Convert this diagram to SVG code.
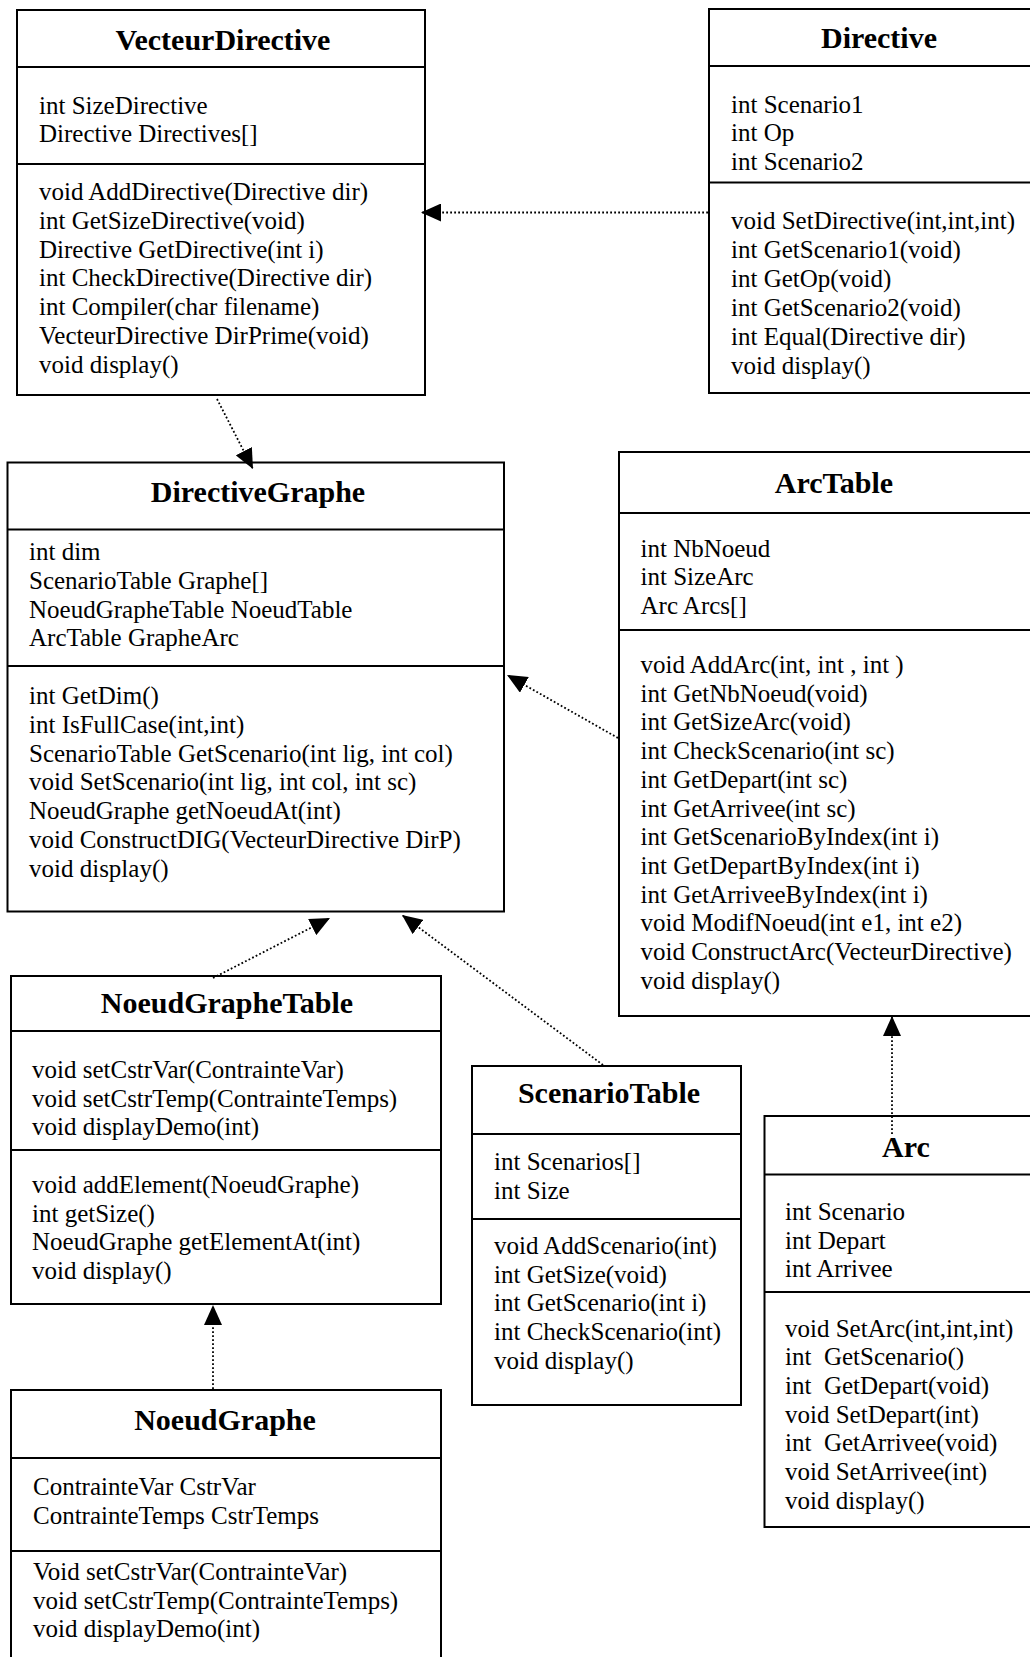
<svg xmlns="http://www.w3.org/2000/svg" width="1030" height="1657" viewBox="0 0 1030 1657">
  <style>
    .box { fill: #ffffff; stroke: #000000; stroke-width: 2; }
    .sep { stroke: #000000; stroke-width: 2; }
    .title { font-family: "Liberation Serif", "Times New Roman", serif; font-weight: bold; font-size: 30px; text-anchor: middle; fill: #000000; }
    .body { font-family: "Liberation Serif", "Times New Roman", serif; font-size: 25px; fill: #000000; }
    .dep { fill: none; stroke: #000000; stroke-width: 1.8; stroke-dasharray: 1.8 2.2; marker-end: url(#head); }
  </style>
  <defs>
    <marker id="head" markerUnits="userSpaceOnUse" viewBox="0 0 20 18" markerWidth="20" markerHeight="18" refX="20" refY="9" orient="auto">
      <path d="M0,0 L20,9 L0,18 z" fill="#000000"/>
    </marker>
  </defs>
  <rect x="0" y="0" width="1030" height="1657" fill="#ffffff"/>

  <!-- VecteurDirective -->
  <g id="VecteurDirective">
    <rect class="box" x="17" y="10" width="408" height="385"/>
    <line class="sep" x1="17" y1="67" x2="425" y2="67"/>
    <line class="sep" x1="17" y1="164" x2="425" y2="164"/>
    <text class="title" x="223" y="50">VecteurDirective</text>
    <text class="body">
      <tspan x="39" y="113.5">int SizeDirective</tspan>
      <tspan x="39" y="142.2">Directive Directives[]</tspan>
    </text>
    <text class="body">
      <tspan x="39" y="200">void AddDirective(Directive dir)</tspan>
      <tspan x="39" y="228.8">int GetSizeDirective(void)</tspan>
      <tspan x="39" y="257.6">Directive GetDirective(int i)</tspan>
      <tspan x="39" y="286.4">int CheckDirective(Directive dir)</tspan>
      <tspan x="39" y="315.2">int Compiler(char filename)</tspan>
      <tspan x="39" y="344">VecteurDirective DirPrime(void)</tspan>
      <tspan x="39" y="372.8">void display()</tspan>
    </text>
  </g>

  <!-- Directive -->
  <g id="Directive">
    <rect class="box" x="709" y="9" width="345" height="384"/>
    <line class="sep" x1="709" y1="66" x2="1054" y2="66"/>
    <line class="sep" x1="709" y1="182.5" x2="1054" y2="182.5"/>
    <text class="title" x="879" y="48">Directive</text>
    <text class="body">
      <tspan x="731" y="112.5">int Scenario1</tspan>
      <tspan x="731" y="141.2">int Op</tspan>
      <tspan x="731" y="170">int Scenario2</tspan>
    </text>
    <text class="body">
      <tspan x="731" y="228.5">void SetDirective(int,int,int)</tspan>
      <tspan x="731" y="257.5">int GetScenario1(void)</tspan>
      <tspan x="731" y="286.5">int GetOp(void)</tspan>
      <tspan x="731" y="315.5">int GetScenario2(void)</tspan>
      <tspan x="731" y="344.5">int Equal(Directive dir)</tspan>
      <tspan x="731" y="373.5">void display()</tspan>
    </text>
  </g>

  <!-- DirectiveGraphe -->
  <g id="DirectiveGraphe">
    <rect class="box" x="7.5" y="462.5" width="496.5" height="449"/>
    <line class="sep" x1="7.5" y1="529.5" x2="504" y2="529.5"/>
    <line class="sep" x1="7.5" y1="666" x2="504" y2="666"/>
    <text class="title" x="258" y="502">DirectiveGraphe</text>
    <text class="body">
      <tspan x="29" y="560">int dim</tspan>
      <tspan x="29" y="588.8">ScenarioTable Graphe[]</tspan>
      <tspan x="29" y="617.6">NoeudGrapheTable NoeudTable</tspan>
      <tspan x="29" y="646.4">ArcTable GrapheArc</tspan>
    </text>
    <text class="body">
      <tspan x="29" y="704">int GetDim()</tspan>
      <tspan x="29" y="732.8">int IsFullCase(int,int)</tspan>
      <tspan x="29" y="761.6">ScenarioTable GetScenario(int lig, int col)</tspan>
      <tspan x="29" y="790.4">void SetScenario(int lig, int col, int sc)</tspan>
      <tspan x="29" y="819.2">NoeudGraphe getNoeudAt(int)</tspan>
      <tspan x="29" y="848">void ConstructDIG(VecteurDirective DirP)</tspan>
      <tspan x="29" y="876.8">void display()</tspan>
    </text>
  </g>

  <!-- ArcTable -->
  <g id="ArcTable">
    <rect class="box" x="619" y="452" width="435" height="564"/>
    <line class="sep" x1="619" y1="513" x2="1054" y2="513"/>
    <line class="sep" x1="619" y1="630" x2="1054" y2="630"/>
    <text class="title" x="834" y="493">ArcTable</text>
    <text class="body">
      <tspan x="640.5" y="556.5">int NbNoeud</tspan>
      <tspan x="640.5" y="585">int SizeArc</tspan>
      <tspan x="640.5" y="613.5">Arc Arcs[]</tspan>
    </text>
    <text class="body">
      <tspan x="640.5" y="673">void AddArc(int, int , int )</tspan>
      <tspan x="640.5" y="701.7">int GetNbNoeud(void)</tspan>
      <tspan x="640.5" y="730.4">int GetSizeArc(void)</tspan>
      <tspan x="640.5" y="759.1">int CheckScenario(int sc)</tspan>
      <tspan x="640.5" y="787.8">int GetDepart(int sc)</tspan>
      <tspan x="640.5" y="816.5">int GetArrivee(int sc)</tspan>
      <tspan x="640.5" y="845.2">int GetScenarioByIndex(int i)</tspan>
      <tspan x="640.5" y="873.9">int GetDepartByIndex(int i)</tspan>
      <tspan x="640.5" y="902.6">int GetArriveeByIndex(int i)</tspan>
      <tspan x="640.5" y="931.3">void ModifNoeud(int e1, int e2)</tspan>
      <tspan x="640.5" y="960">void ConstructArc(VecteurDirective)</tspan>
      <tspan x="640.5" y="988.7">void display()</tspan>
    </text>
  </g>

  <!-- NoeudGrapheTable -->
  <g id="NoeudGrapheTable">
    <rect class="box" x="11" y="976" width="430" height="328"/>
    <line class="sep" x1="11" y1="1031" x2="441" y2="1031"/>
    <line class="sep" x1="11" y1="1150" x2="441" y2="1150"/>
    <text class="title" x="227" y="1013">NoeudGrapheTable</text>
    <text class="body">
      <tspan x="32" y="1078">void setCstrVar(ContrainteVar)</tspan>
      <tspan x="32" y="1106.7">void setCstrTemp(ContrainteTemps)</tspan>
      <tspan x="32" y="1135.4">void displayDemo(int)</tspan>
    </text>
    <text class="body">
      <tspan x="32" y="1193">void addElement(NoeudGraphe)</tspan>
      <tspan x="32" y="1221.7">int getSize()</tspan>
      <tspan x="32" y="1250.4">NoeudGraphe getElementAt(int)</tspan>
      <tspan x="32" y="1279.1">void display()</tspan>
    </text>
  </g>

  <!-- ScenarioTable -->
  <g id="ScenarioTable">
    <rect class="box" x="472" y="1066" width="269" height="339"/>
    <line class="sep" x1="472" y1="1134" x2="741" y2="1134"/>
    <line class="sep" x1="472" y1="1219" x2="741" y2="1219"/>
    <text class="title" x="609" y="1103">ScenarioTable</text>
    <text class="body">
      <tspan x="494" y="1170">int Scenarios[]</tspan>
      <tspan x="494" y="1198.5">int Size</tspan>
    </text>
    <text class="body">
      <tspan x="494" y="1254">void AddScenario(int)</tspan>
      <tspan x="494" y="1282.7">int GetSize(void)</tspan>
      <tspan x="494" y="1311.4">int GetScenario(int i)</tspan>
      <tspan x="494" y="1340.1">int CheckScenario(int)</tspan>
      <tspan x="494" y="1368.8">void display()</tspan>
    </text>
  </g>

  <!-- Arc -->
  <g id="Arc">
    <rect class="box" x="764.5" y="1116" width="290" height="411"/>
    <line class="sep" x1="764.5" y1="1174.5" x2="1054" y2="1174.5"/>
    <line class="sep" x1="764.5" y1="1292" x2="1054" y2="1292"/>
    <text class="title" x="906" y="1157">Arc</text>
    <text class="body">
      <tspan x="785" y="1220">int Scenario</tspan>
      <tspan x="785" y="1248.7">int Depart</tspan>
      <tspan x="785" y="1277.4">int Arrivee</tspan>
    </text>
    <text class="body" x="785" y="1336.5">void SetArc(int,int,int)</text>
    <text class="body" x="785" y="1365.2" xml:space="preserve">int  GetScenario()</text>
    <text class="body" x="785" y="1393.9" xml:space="preserve">int  GetDepart(void)</text>
    <text class="body" x="785" y="1422.6">void SetDepart(int)</text>
    <text class="body" x="785" y="1451.3" xml:space="preserve">int  GetArrivee(void)</text>
    <text class="body" x="785" y="1480">void SetArrivee(int)</text>
    <text class="body" x="785" y="1508.7">void display()</text>
  </g>

  <!-- NoeudGraphe -->
  <g id="NoeudGraphe">
    <rect class="box" x="11" y="1390" width="430" height="300"/>
    <line class="sep" x1="11" y1="1458" x2="441" y2="1458"/>
    <line class="sep" x1="11" y1="1551" x2="441" y2="1551"/>
    <text class="title" x="225" y="1430">NoeudGraphe</text>
    <text class="body">
      <tspan x="33" y="1495">ContrainteVar CstrVar</tspan>
      <tspan x="33" y="1523.5">ContrainteTemps CstrTemps</tspan>
    </text>
    <text class="body">
      <tspan x="33" y="1580">Void setCstrVar(ContrainteVar)</tspan>
      <tspan x="33" y="1608.7">void setCstrTemp(ContrainteTemps)</tspan>
      <tspan x="33" y="1637.4">void displayDemo(int)</tspan>
    </text>
  </g>

  <!-- dependency connectors (dotted, filled heads) -->
  <g id="connectors">
    <path class="dep" d="M708,212.5 L421,212.5"/>
    <path class="dep" d="M217,399 L253,469"/>
    <path class="dep" d="M618,738 L507,675"/>
    <path class="dep" d="M213,978 L330,918"/>
    <path class="dep" d="M603,1065 L402,915"/>
    <path class="dep" d="M892,1134 L892,1016"/>
    <path class="dep" d="M213,1389 L213,1305"/>
  </g>
</svg>
